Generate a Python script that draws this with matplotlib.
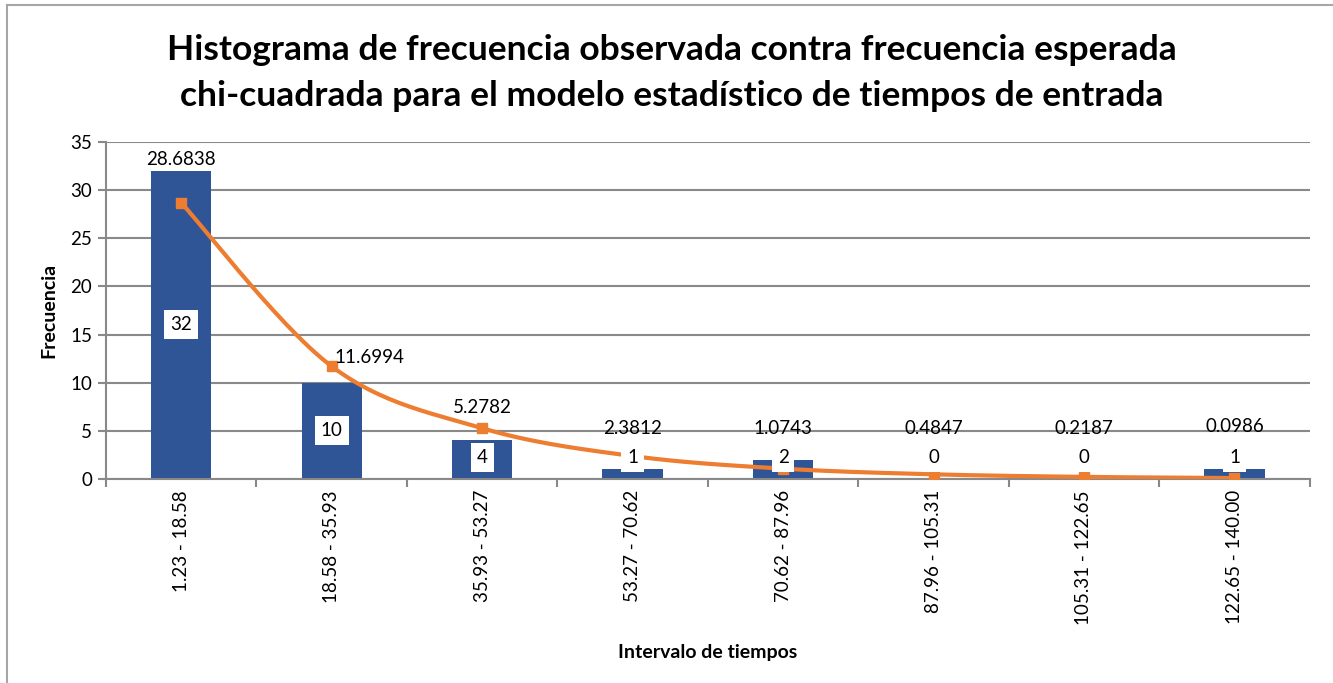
import numpy as np
import matplotlib
matplotlib.use("Agg")
import matplotlib.pyplot as plt
from matplotlib.lines import Line2D

plt.rcParams['font.family'] = ['Lato', 'DejaVu Sans']

# datos
intervalos = ["1.23 - 18.58", "18.58 - 35.93", "35.93 - 53.27", "53.27 - 70.62",
              "70.62 - 87.96", "87.96 - 105.31", "105.31 - 122.65", "122.65 - 140.00"]
observada = [32, 10, 4, 1, 2, 0, 0, 1]
esperada = [28.6838, 11.6994, 5.2782, 2.3812, 1.0743, 0.4847, 0.2187, 0.0986]

# posicion (en unidades del eje y) de las etiquetas de la linea
pos_etiq_esp = [33.2, 12.6, 7.4, 5.2, 5.2, 5.2, 5.2, 5.5]
dx_etiq_esp = [0, 0.25, 0, 0, 0, 0, 0, 0]

azul = "#2F5597"
naranja = "#ED7D31"
gris = "#898989"

fig = plt.figure(figsize=(13.33, 6.83), dpi=100)
ax = fig.add_axes([0.0795, 0.2987, 0.903, 0.4935])

x = np.arange(len(intervalos))
ax.bar(x, observada, width=0.4, color=azul, zorder=2)


def catmull(xs, ys, n=30):
    # curva suavizada tipo excel
    px, py = [], []
    P = list(zip(xs, ys))
    P = [P[0]] + P + [P[-1]]
    for i in range(1, len(P) - 2):
        p0, p1, p2, p3 = [np.array(p) for p in P[i - 1:i + 3]]
        t = np.linspace(0, 1, n)[:, None]
        c1 = p1 + (p2 - p0) / 6
        c2 = p2 - (p3 - p1) / 6
        b = ((1 - t) ** 3) * p1 + 3 * ((1 - t) ** 2) * t * c1 + 3 * (1 - t) * t ** 2 * c2 + t ** 3 * p2
        px.extend(b[:, 0]); py.extend(b[:, 1])
    return px, py


cx, cy = catmull(x, esperada)
ax.plot(cx, cy, color=naranja, lw=3, zorder=3, solid_capstyle='round')
ax.plot(x, esperada, ls='none', marker='s', ms=7, color=naranja, zorder=4)

for i, v in enumerate(observada):
    ax.text(i, max(v / 2, 2.2), str(v), ha='center', va='center', fontsize=13.5,
            zorder=5, bbox=dict(boxstyle='square,pad=0.32', fc='white', ec='none'))

for i, v in enumerate(esperada):
    ax.text(i + dx_etiq_esp[i], pos_etiq_esp[i], "%.4f" % v, ha='center', va='center',
            fontsize=13.5, zorder=5)

ax.set_xlim(-0.5, len(intervalos) - 0.5)
ax.set_ylim(0, 35)
ax.set_yticks(range(0, 36, 5))
ax.yaxis.grid(True, color=gris, lw=1.5, zorder=0)
ax.set_axisbelow(True)
ax.set_xticks(x)
ax.set_xticklabels(intervalos, rotation=90, fontsize=13.5)
ax.set_xticks(np.arange(-0.5, len(intervalos), 1), minor=True)
ax.tick_params(axis='x', which='major', length=0, pad=8)
ax.tick_params(axis='x', which='minor', length=6, color=gris, width=1.5)
ax.tick_params(axis='y', length=6, color=gris, width=1.5, labelsize=13.5, pad=4)
for s in ['top', 'right']:
    ax.spines[s].set_visible(False)
for s in ['left', 'bottom']:
    ax.spines[s].set_color(gris)
    ax.spines[s].set_linewidth(1.5)

ax.set_ylabel("Frecuencia", fontsize=14, fontweight='bold', labelpad=9)
ax.set_xlabel("Intervalo de tiempos", fontsize=14, fontweight='bold', labelpad=14)

fig.text(0.504, 0.893, "Histograma de frecuencia observada contra frecuencia esperada\n"
         "chi-cuadrada para el modelo estadístico de tiempos de entrada",
         ha='center', va='center', fontsize=25.5, fontweight='bold', linespacing=1.52)

# borde del grafico
fig.add_artist(Line2D([0.0053, 0.0053], [0, 0.993], color='#A6A6A6', lw=1.5))
fig.add_artist(Line2D([0.0053, 1], [0.993, 0.993], color='#A6A6A6', lw=1.5))

fig.savefig("out.png", dpi=100)
